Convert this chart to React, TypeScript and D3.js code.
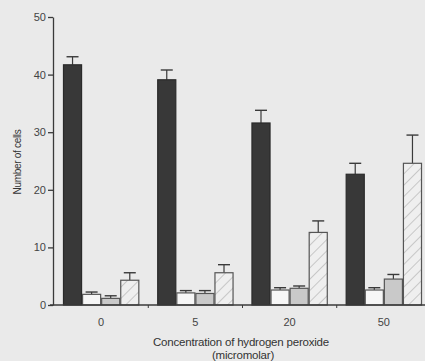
import * as d3 from "d3";
import { useEffect, useRef } from "react";

// concentrations (micromolar)
const groups = ["0", "5", "20", "50"];
const seriesKeys = ["dark", "white", "grey", "hatched"];

// mean number of cells per series, per concentration
const darkValues = [41.7, 39.1, 31.6, 22.7];
const whiteValues = [1.85, 2.1, 2.6, 2.6];
const greyValues = [1.15, 2.0, 2.9, 4.5];
const hatchedValues = [4.3, 5.6, 12.6, 24.6];

// upper end of the error bars
const darkErr = [43.1, 40.8, 33.8, 24.6];
const whiteErr = [2.25, 2.5, 3.0, 3.0];
const greyErr = [1.6, 2.5, 3.3, 5.3];
const hatchedErr = [5.6, 7.0, 14.6, 29.5];

const yTicks = [0, 10, 20, 30, 40, 50];

export default function App() {
  const ref = useRef<SVGSVGElement>(null);

  useEffect(() => {
    if (!ref.current) return;
    const svg = d3.select(ref.current);
    svg.selectAll("*").remove();

    const width = 425;
    const height = 361;
    const font = "'Liberation Sans', Arial, sans-serif";
    const ink = "#3a3a3a";

    svg.append("rect").attr("width", width).attr("height", height).attr("fill", "#eaeaea");

    // hatch pattern
    const defs = svg.append("defs");
    const pat = defs
      .append("pattern")
      .attr("id", "hatch")
      .attr("patternUnits", "userSpaceOnUse")
      .attr("width", 8)
      .attr("height", 8)
      .attr("patternTransform", "rotate(45)");
    pat.append("rect").attr("width", 8).attr("height", 8).attr("fill", "#efefef");
    pat.append("line").attr("x1", 0).attr("y1", 0).attr("x2", 0).attr("y2", 8)
      .attr("stroke", "#a0a0a0").attr("stroke-width", 1);

    const y = d3.scaleLinear().domain([0, 50]).range([305, 17]);

    const x0 = d3.scaleBand().domain(groups).range([53, 432])
      .paddingInner(0.19).paddingOuter(0.106);
    const x1 = d3.scaleBand().domain(seriesKeys).range([0, x0.bandwidth()]);

    const data: Record<string, { v: number[]; e: number[]; fill: string }> = {
      dark: { v: darkValues, e: darkErr, fill: "#383838" },
      white: { v: whiteValues, e: whiteErr, fill: "#f6f6f6" },
      grey: { v: greyValues, e: greyErr, fill: "#c9c9c9" },
      hatched: { v: hatchedValues, e: hatchedErr, fill: "url(#hatch)" },
    };

    const g = svg.append("g");

    groups.forEach((grp, gi) => {
      seriesKeys.forEach((k) => {
        const s = data[k];
        const bx = x0(grp)! + x1(k)!;
        const bw = x1.bandwidth();
        const top = y(s.v[gi]);
        // error bar
        const cx = bx + bw / 2;
        g.append("line").attr("x1", cx).attr("x2", cx)
          .attr("y1", top).attr("y2", y(s.e[gi]))
          .attr("stroke", ink).attr("stroke-width", 1.2);
        g.append("line").attr("x1", cx - 6).attr("x2", cx + 6)
          .attr("y1", y(s.e[gi])).attr("y2", y(s.e[gi]))
          .attr("stroke", ink).attr("stroke-width", 1.4);
        g.append("rect")
          .attr("x", bx + 0.5)
          .attr("y", top)
          .attr("width", bw - 1)
          .attr("height", y(0) - top)
          .attr("fill", s.fill)
          .attr("stroke", k === "dark" ? "#2a2a2a" : "#555")
          .attr("stroke-width", 1.2);
      });
    });

    // y axis
    const yAxis = svg.append("g")
      .attr("transform", "translate(53,0)")
      .call(d3.axisLeft(y).tickValues(yTicks).tickSize(5).tickSizeOuter(0).tickPadding(2));
    yAxis.select(".domain").attr("stroke", ink).attr("stroke-width", 1.3);
    yAxis.selectAll(".tick line").attr("stroke", ink).attr("stroke-width", 1.3);
    yAxis.selectAll("text").attr("fill", "#444").style("font-family", font).style("font-size", "11px");

    // x axis line
    svg.append("line").attr("x1", 50).attr("x2", 425)
      .attr("y1", y(0)).attr("y2", y(0))
      .attr("stroke", ink).attr("stroke-width", 1.4);

    // small ticks between groups
    groups.slice(1).forEach((grp) => {
      const tx = x0(grp)! - (x0.step() * x0.paddingInner()) / 2;
      svg.append("line").attr("x1", tx).attr("x2", tx)
        .attr("y1", y(0)).attr("y2", y(0) + 3)
        .attr("stroke", ink).attr("stroke-width", 1);
    });

    // category labels
    svg.append("g").selectAll("text").data(groups).enter().append("text")
      .attr("x", (d) => x0(d)! + x0.bandwidth() / 2)
      .attr("y", 326)
      .attr("text-anchor", "middle")
      .attr("fill", "#444")
      .style("font-family", font)
      .style("font-size", "11px")
      .text((d) => d);

    svg.append("text")
      .attr("x", 241).attr("y", 346)
      .attr("text-anchor", "middle")
      .attr("fill", "#333")
      .style("font-family", font).style("font-size", "11.5px")
      .style("letter-spacing", "-0.2px")
      .text("Concentration of hydrogen peroxide");
    svg.append("text")
      .attr("x", 243).attr("y", 359)
      .attr("text-anchor", "middle")
      .attr("fill", "#333")
      .style("font-family", font).style("font-size", "11.5px")
      .style("letter-spacing", "-0.2px")
      .text("(micromolar)");

    svg.append("text")
      .attr("transform", "translate(21,162) rotate(-90)")
      .attr("text-anchor", "middle")
      .attr("fill", "#333")
      .style("font-family", font).style("font-size", "10px")
      .style("letter-spacing", "-0.3px")
      .text("Number of cells");
  }, []);

  return (
    <svg
      ref={ref}
      width={425}
      height={361}
      style={{ position: "absolute", left: 0, top: 0, display: "block" }}
    />
  );
}
